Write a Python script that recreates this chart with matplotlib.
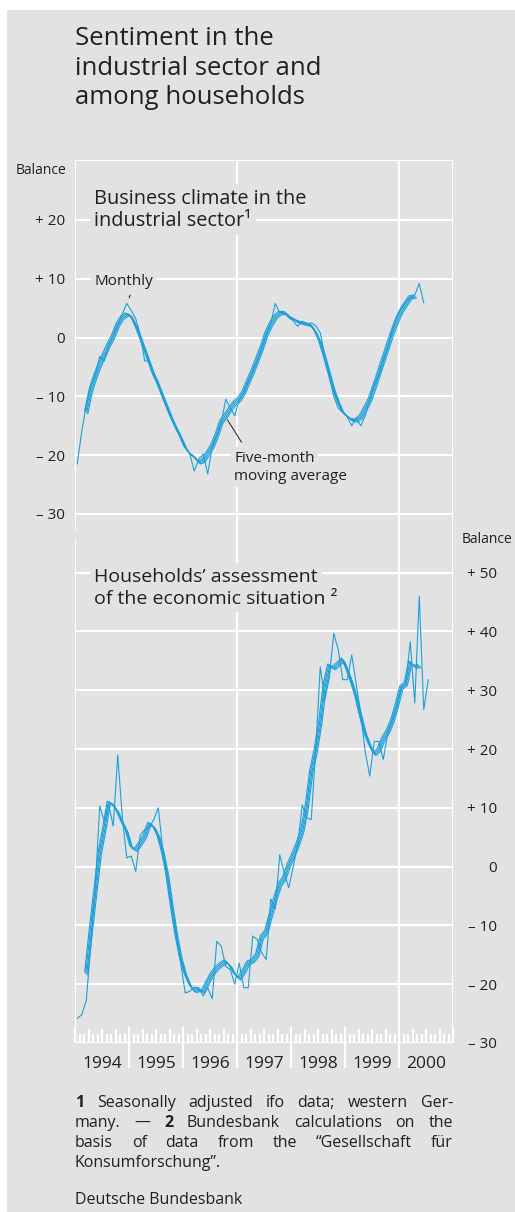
import matplotlib
matplotlib.use("Agg")
import matplotlib.pyplot as plt
import matplotlib.transforms as mtransforms
import numpy as np
import pandas as pd

plt.rcParams['font.family'] = ['Open Sans', 'DejaVu Sans']

BG = '#e1e2e4'
LINE = '#1f9fd9'
INK = '#231f20'
W, H = 515, 1212

# ifo business climate, industrial sector, monthly balance Jan 1994 .. Jun 2000
business_monthly = [
    -21.5, -16.0, -11.5, -8.0, -6.5, -3.2, -4.0, -1.5, 0.5, 2.0, 4.0, 5.8,
    4.6, 3.2, 0.5, -4.0, -4.0, -6.0, -7.5, -10.2, -12.2, -13.8, -15.5, -17.0,
    -18.5, -19.8, -22.7, -20.7, -19.8, -23.2, -18.5, -16.5, -14.5, -10.5, -11.9, -13.3,
    -10.5, -9.5, -7.5, -5.8, -4.0, -2.0, 0.5, 2.4, 5.8, 4.2, 4.4, 3.8,
    2.8, 1.9, 2.8, 2.2, 2.5, 2.0, 0.8, -3.0, -6.5, -10.0, -12.0, -12.8,
    -13.5, -15.0, -13.8, -15.0, -13.3, -10.5, -8.0, -6.5, -4.0, -1.8, 1.2, 3.5,
    5.0, 6.0, 6.7, 7.2, 9.2, 5.9,
]

# households' assessment of the economic situation, monthly balance Jan 1994 .. Jul 2000
household_monthly = [
    -25.8, -25.2, -22.8, -13.5, -3.6, 10.3, 7.7, 10.5, 6.9, 19.0, 8.5, 1.5,
    1.8, -0.8, 5.4, 6.3, 6.7, 8.0, 10.0, 3.0, -1.5, -7.0, -11.5, -16.5,
    -21.5, -21.2, -20.5, -20.6, -22.0, -20.6, -22.5, -12.7, -13.5, -17.0, -17.5, -20.0,
    -16.4, -20.6, -20.6, -11.8, -12.4, -14.7, -15.8, -5.5, -7.2, 2.0, -1.1, -3.6,
    0.0, 3.8, 10.5, 8.3, 8.0, 20.0, 34.0, 28.4, 32.0, 39.7, 36.9, 31.8, 31.8, 36.0,
    31.0, 26.0, 19.5, 15.4, 21.3, 21.3, 18.2, 22.7, 25.0, 27.5,
    30.4, 31.2, 38.3, 27.8, 46.0, 26.7, 31.8,
]

years = [1994, 1995, 1996, 1997, 1998, 1999, 2000]
year_labels = [str(y) for y in years]
left_ticks = [20, 10, 0, -10, -20, -30]
left_labels = ['+ 20', '+ 10', '0', '\u2013 10', '\u2013 20', '\u2013 30']
right_ticks = [50, 40, 30, 20, 10, 0, -10, -20, -30]
right_labels = ['+ 50', '+ 40', '+ 30', '+ 20', '+ 10', '0', '\u2013 10', '\u2013 20', '\u2013 30']

footnote_lines = [
    [('1', True), ('Seasonally', False), ('adjusted', False), ('ifo', False), ('data;', False),
     ('western', False), ('Ger-', False)],
    [('many.', False), ('\u2014', False), ('2', True), ('Bundesbank', False), ('calculations', False),
     ('on', False), ('the', False)],
    [('basis', False), ('of', False), ('data', False), ('from', False), ('the', False),
     ('\u201cGesellschaft', False), ('f\u00fcr', False)],
    [('Konsumforschung\u201d.', False)],
]


def fx(px):
    return px / W


def fy(py):
    return 1 - py / H


def month_axis(n):
    return 1994 + (np.arange(n) + 0.5) / 12


fig = plt.figure(figsize=(W / 100, H / 100), dpi=100, facecolor='white')
fig.add_artist(plt.Rectangle((fx(7), 0), 1, fy(10), transform=fig.transFigure,
                             facecolor=BG, edgecolor='none', zorder=0))

ax = fig.add_axes([fx(75), fy(1043), fx(453) - fx(75), fy(160) - fy(1043)])
ax.patch.set_visible(False)
ax2 = ax.twinx()
ax2.patch.set_visible(False)

ax.set_xlim(1994, 2001)
ax.set_ylim(-120, 30.2)
ax2.set_ylim(-30, 120.2)

for a in (ax, ax2):
    for s in a.spines.values():
        s.set_visible(False)

# frame and grid
grid_kw = dict(color='white', lw=1.5, zorder=0.5)
ax.set_yticks(left_ticks, left_labels)
ax2.set_yticks(right_ticks, right_labels)
for v in left_ticks:
    ax.axhline(v, **grid_kw)
for v in right_ticks:
    ax2.axhline(v, **grid_kw)
ax.axhline(30.2, **grid_kw)
for yr in [1997, 2000, 2001]:
    ax.axvline(yr, **grid_kw)
ax.axvline(1994, ymin=0.581, ymax=1, **grid_kw)
ax.axvline(1994, ymin=0, ymax=0.5697, **grid_kw)

ax.tick_params(axis='y', length=0, pad=7, labelsize=11, labelcolor=INK)
ax2.tick_params(axis='y', length=0, pad=31.5, labelsize=11, labelcolor=INK)
for lab in ax2.get_yticklabels():
    lab.set_horizontalalignment('right')
ax2.tick_params(axis='x', bottom=False, labelbottom=False)

# x axis: months, quarters, years
ax.set_xticks(np.arange(1994, 2002))
ax.set_xticks(1994 + np.arange(0, 84) / 12, minor=True)
ax.tick_params(axis='x', which='both', direction='in', color='white', width=1.5,
               labelbottom=False)
ax.tick_params(axis='x', which='major', length=11.5)
ax.tick_params(axis='x', which='minor', length=6.5)
minor_locs = ax.xaxis.get_minorticklocs()
for loc, tick in zip(minor_locs, ax.xaxis.get_minor_ticks(len(minor_locs))):
    m = int(round((loc - 1994) * 12)) % 12
    if m % 3 == 0:
        tick.tick1line.set_markersize(10)
xax = ax.get_xaxis_transform()
for yr, lab in zip(years, year_labels):
    ax.text(yr + 0.5, -25 / 883, lab, transform=xax, ha='center', va='baseline',
            fontsize=12.5, color=INK)
ax.vlines(years[1:], -25 / 883, 0, transform=xax, colors='white', lw=1.5, clip_on=False)

# data
x_bus = month_axis(len(business_monthly))
x_hh = month_axis(len(household_monthly))
bus_ma = pd.Series(business_monthly).rolling(5, center=True).mean()
hh_ma = pd.Series(household_monthly).rolling(5, center=True).mean()

for a, xs, ma in ((ax, x_bus, bus_ma), (ax2, x_hh, hh_ma)):
    for k in (-1.5, -0.5, 0.5, 1.5):
        tr = mtransforms.offset_copy(a.transData, fig=fig, x=0.75 * k, y=-0.75 * k, units='points')
        a.plot(xs, ma, color=LINE, lw=0.8, transform=tr, zorder=2, solid_joinstyle='round')
ax.plot(x_bus, business_monthly, color=LINE, lw=0.8, zorder=2.2)
ax2.plot(x_hh, household_monthly, color=LINE, lw=0.8, zorder=2.2)

# labels inside the chart
box = dict(facecolor=BG, edgecolor='none', boxstyle='square,pad=0.22')
ax.text(1994.357, 22.79, 'Business climate in the', fontsize=14.3, color=INK,
        va='baseline', bbox=box, zorder=3)
ax.text(1994.357, 19.05, 'industrial sector\u00b9', fontsize=14.3, color=INK,
        va='baseline', bbox=box, zorder=3)
ax.text(1994.357, 9.01, 'Monthly', fontsize=11, color=INK, va='baseline', bbox=box, zorder=3)
ax.text(1996.95, -21.09, 'Five-month', fontsize=11, color=INK, va='baseline', bbox=box, zorder=3)
ax.text(1996.95, -24.15, 'moving average', fontsize=11, color=INK, va='baseline', bbox=box, zorder=3)
ax.annotate('', xy=(1994.987, 6.3), xytext=(1995.037, 7.7),
            arrowprops=dict(arrowstyle='-', lw=0.7, color=INK))
ax.annotate('', xy=(1996.796, -13.6), xytext=(1997.111, -18.2),
            arrowprops=dict(arrowstyle='-', lw=0.7, color=INK))
ax2.text(1994.357, 48.47, 'Households\u2019 assessment', fontsize=14, color=INK,
         va='baseline', bbox=box, zorder=3)
ax2.text(1994.357, 44.73, 'of the economic situation \u00b2', fontsize=14, color=INK,
         va='baseline', bbox=box, zorder=3)

# titles and axis captions
for line, base in zip(['Sentiment in the', 'industrial sector and', 'among households'], [45, 75, 104]):
    fig.text(fx(75), fy(base), line, fontsize=18.5, color=INK, va='baseline')
fig.text(fx(66), fy(174), 'Balance', fontsize=10, color=INK, ha='right', va='baseline')
fig.text(fx(462), fy(543), 'Balance', fontsize=10, color=INK, ha='left', va='baseline')

# justified footnotes
renderer = fig.canvas.get_renderer()
fn_size = 11.5
space_px = 0.26 * fn_size * 100 / 72
for i, words in enumerate(footnote_lines):
    base = 1107 + 20 * i
    arts = [fig.text(0, fy(base), w, fontsize=fn_size, color=INK, va='baseline',
                     fontweight='bold' if b else 'normal') for w, b in words]
    widths = [t.get_window_extent(renderer).width for t in arts]
    if i < len(footnote_lines) - 1 and len(arts) > 1:
        gap = (378 - sum(widths)) / (len(arts) - 1)
    else:
        gap = space_px
    xpos = 75.0
    for t, w in zip(arts, widths):
        t.set_x(fx(xpos))
        xpos += w + gap
fig.text(fx(75), fy(1204), 'Deutsche Bundesbank', fontsize=fn_size, color=INK, va='baseline')

fig.savefig('out.png', dpi=100, facecolor='white')
